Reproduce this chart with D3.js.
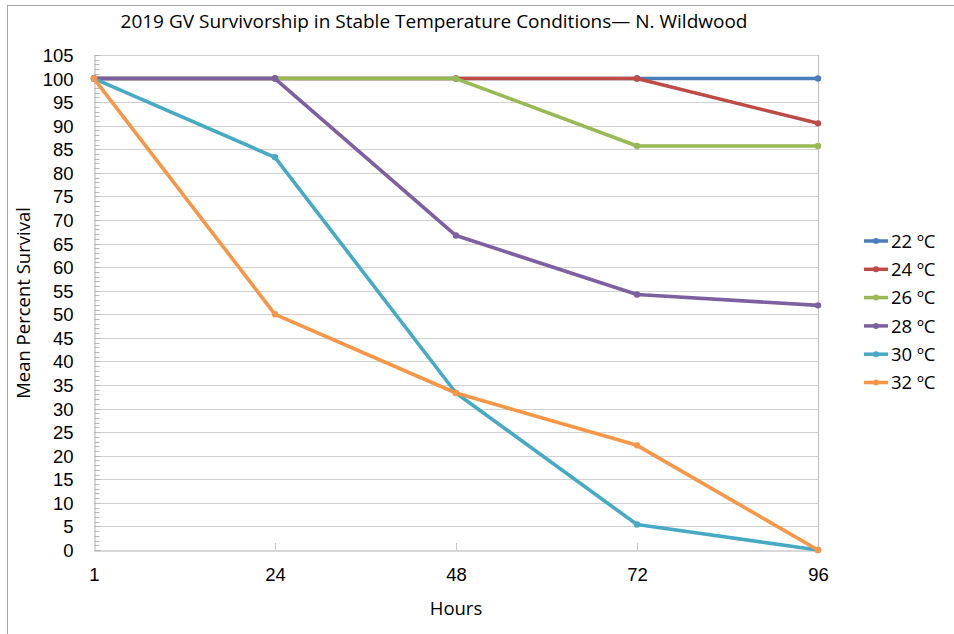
<!DOCTYPE html>
<html>
<head>
<meta charset="utf-8">
<script src="https://cdn.jsdelivr.net/npm/d3@7"></script>
<style>
  html, body { margin: 0; padding: 0; background: #fff; }
  svg { display: block; font-family: "Open Sans", "Noto Sans", sans-serif; }
</style>
</head>
<body>
<svg id="chart" width="954" height="634"></svg>
<script>
// Sampling times (hours) and survival per temperature
const hours = ["1", "24", "48", "72", "96"];
const seriesNames = ["22 ºC", "24 ºC", "26 ºC", "28 ºC", "30 ºC", "32 ºC"];
const s22 = [100, 100, 100, 100, 100];
const s24 = [100, 100, 100, 100, 90.5];
const s26 = [100, 100, 100, 85.7, 85.7];
const s28 = [100, 100, 66.7, 54.2, 51.9];
const s30 = [100, 83.3, 33.3, 5.4, 0];
const s32 = [100, 50, 33.3, 22.2, 0];
const yTicks = d3.range(0, 106, 5);
const colors = ["#4a7ebb", "#be4b48", "#98b954", "#7d60a0", "#46aac5", "#f79646"];

const seriesValues = [s22, s24, s26, s28, s30, s32];
const series = seriesNames.map((name, i) => ({ name, values: seriesValues[i], color: colors[i] }));

const svg = d3.select("#chart");

// Outer chart frame
svg.append("rect")
  .attr("x", 7.5).attr("y", 5.5)
  .attr("width", 960).attr("height", 650)
  .attr("fill", "none").attr("stroke", "#a6a6a6").attr("stroke-width", 1);

const x = d3.scalePoint().domain(hours).range([94, 818]);
const y = d3.scaleLinear().domain([0, 105]).range([550, 55]);

// Horizontal gridlines
svg.append("g").selectAll("line")
  .data(yTicks.filter(d => d > 0))
  .join("line")
  .attr("x1", 94).attr("x2", 818)
  .attr("y1", d => Math.round(y(d)) + 0.5).attr("y2", d => Math.round(y(d)) + 0.5)
  .attr("stroke", "#d0d0d0").attr("stroke-width", 1);

// Right edge of plot area
svg.append("line")
  .attr("x1", 818.5).attr("x2", 818.5).attr("y1", 55).attr("y2", 550)
  .attr("stroke", "#c0c0c0");

// Minor ticks drawn inward from the y axis
const yMinor = svg.append("g").attr("transform", "translate(94.5,0)");
yMinor.selectAll("line")
  .data(d3.range(0, 106, 1))
  .join("line")
  .attr("x1", 0).attr("x2", d => d % 5 === 0 ? 6 : 5)
  .attr("y1", d => Math.round(y(d)) + 0.5).attr("y2", d => Math.round(y(d)) + 0.5)
  .attr("stroke", "#b8b8b8").attr("stroke-width", 1);

const yAxis = svg.append("g")
  .attr("transform", "translate(94.5,0)")
  .call(d3.axisLeft(y).tickValues(yTicks).tickSize(0).tickPadding(21));
yAxis.select(".domain").attr("stroke", "#b0b0b0");
yAxis.selectAll("text")
  .attr("fill", "#000").style("font-size", "18.5px")
  .attr("dy", "0.35em");

// X axis
const xAxis = svg.append("g")
  .attr("transform", "translate(0,550.5)")
  .call(d3.axisBottom(x).tickSize(0).tickPadding(17));
xAxis.select(".domain").attr("stroke", "#b0b0b0");
xAxis.selectAll("text").attr("fill", "#000").style("font-size", "18.5px");
svg.append("g").selectAll("line")
  .data(hours.slice(1, -1))
  .join("line")
  .attr("x1", d => x(d) + 0.5).attr("x2", d => x(d) + 0.5)
  .attr("y1", 543).attr("y2", 550)
  .attr("stroke", "#c8c8c8");

// Series lines and markers
const line = d3.line().x((d, i) => x(hours[i])).y(d => y(d));
const gS = svg.append("g");
series.forEach(s => {
  gS.append("path")
    .attr("d", line(s.values))
    .attr("fill", "none").attr("stroke", s.color)
    .attr("stroke-width", 3.6).attr("stroke-linejoin", "round");
  gS.append("g").selectAll("circle")
    .data(s.values)
    .join("circle")
    .attr("cx", (d, i) => x(hours[i])).attr("cy", d => y(d))
    .attr("r", 3.2).attr("fill", s.color);
});

// Title
svg.append("text")
  .attr("x", 434).attr("y", 28)
  .attr("text-anchor", "middle")
  .style("font-size", "19px").attr("fill", "#000")
  .text("2019 GV Survivorship in Stable Temperature Conditions\u2014 N. Wildwood");

// Axis titles
svg.append("text")
  .attr("x", 456).attr("y", 615)
  .attr("text-anchor", "middle")
  .style("font-size", "18.5px").attr("fill", "#000")
  .text("Hours");
svg.append("text")
  .attr("transform", "translate(30,303) rotate(-90)")
  .attr("text-anchor", "middle")
  .style("font-size", "18.5px").attr("fill", "#000")
  .text("Mean Percent Survival");

// Legend
const legend = svg.append("g").attr("transform", "translate(864,241)");
const rows = legend.selectAll("g")
  .data(series)
  .join("g")
  .attr("transform", (d, i) => `translate(0,${i * 28.3})`);
rows.append("line")
  .attr("x1", 0).attr("x2", 24).attr("y1", 0).attr("y2", 0)
  .attr("stroke", d => d.color).attr("stroke-width", 3.5);
rows.append("circle").attr("cx", 12).attr("cy", 0).attr("r", 3).attr("fill", d => d.color);
rows.append("text")
  .attr("x", 27).attr("y", 0).attr("dy", "0.36em")
  .style("font-size", "18.5px").attr("fill", "#000")
  .text(d => d.name);
</script>
</body>
</html>
